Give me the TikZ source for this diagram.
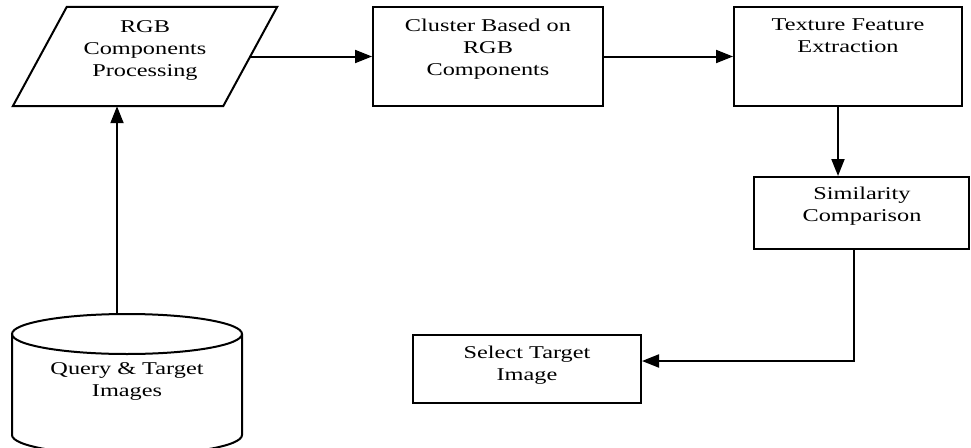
\documentclass[tikz,border=0pt]{standalone}
\usepackage{fontspec}
\setmainfont{Liberation Serif}[FakeStretch=1.35]
\usetikzlibrary{arrows.meta}

\begin{document}
\begin{tikzpicture}[x=1pt, y=-1pt]
        % Define styles
        \tikzset{
            stagebox/.style={draw, line width=2pt, rectangle, inner sep=0pt},
            area/.style={rectangle, inner sep=0pt},
            outline/.style={line width=2pt, line join=miter},
            boxtext/.style={align=center, font=\fontsize{18}{22}\selectfont},
            flow/.style={-{Triangle[length=17pt, width=13pt]}, line width=2pt}
        }
        \useasboundingbox (0,0) rectangle (971,447);
        % Parallelogram for the RGB processing step
        \node[area, minimum width=264pt, minimum height=99pt] (proc) at (145,56.5) {};
        \draw[outline] ([xshift=54pt]proc.north west) -- (proc.north east)
            -- ([xshift=-54pt]proc.south east) -- (proc.south west) -- cycle;
        \node[boxtext] (procText) at (145,50) {RGB\\Components\\Processing};
        % Top row boxes
        \node[stagebox, minimum width=230pt, minimum height=99pt] (clus) at (488,56.5) {};
        \node[boxtext] (clusText) at (488,49) {Cluster Based on\\RGB\\Components};
        \node[stagebox, minimum width=228pt, minimum height=99pt] (tex) at (848,56.5) {};
        \node[boxtext] (texText) at (848,36) {Texture Feature\\Extraction};
        % Comparison and selection
        \node[stagebox, minimum width=215pt, minimum height=72pt] (sim) at (861.5,213) {};
        \node[boxtext] (simText) at (862,206) {Similarity\\Comparison};
        \node[stagebox, minimum width=228pt, minimum height=68pt] (sel) at (527,369) {};
        \node[boxtext] (selText) at (527,365) {Select Target\\Image};
        % Image store (cylinder, bottom runs off the page)
        \draw[outline] (127,334) ellipse[x radius=115, y radius=20];
        \draw[outline] (12,334) -- (12,435) arc[start angle=180, end angle=0, x radius=115, y radius=20]
            -- (242,334);
        \coordinate (imgsTop) at (117,314);
        \node[boxtext] (imgsText) at (127,381) {Query \& Target\\Images};
        % Connectors
        \draw[flow] (imgsTop) -- (imgsTop |- proc.south);
        \draw[flow] ([xshift=-27pt]proc.east) -- (clus.west);
        \draw[flow] (clus.east) -- (tex.west);
        \draw[flow] ([xshift=-10pt]tex.south) -- ([xshift=-10pt]tex.south |- sim.north);
        \draw[flow] ([xshift=-8pt]sim.south) |- ([yshift=8pt]sel.east);
    \end{tikzpicture}
\end{document}
